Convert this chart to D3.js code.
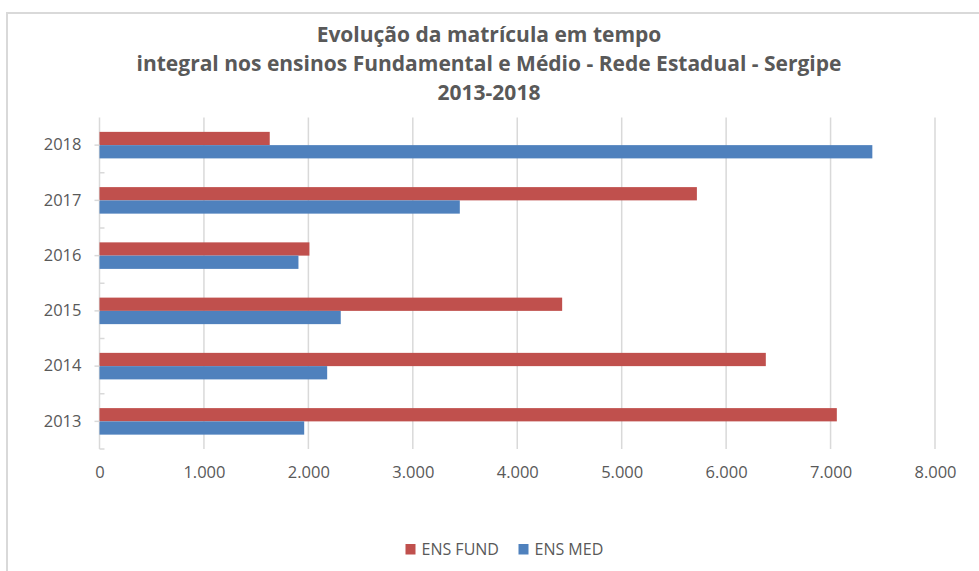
<!DOCTYPE html>
<html>
<head>
<meta charset="utf-8">
<script src="https://cdn.jsdelivr.net/npm/d3@7"></script>
<style>
  body { margin: 0; background: #fff; }
  text { font-family: "Open Sans", sans-serif; fill: #595959; }
</style>
</head>
<body>
<div id="chart"></div>
<script>
// Data
const years = ["2018", "2017", "2016", "2015", "2014", "2013"];
const ensFund = [1630, 5720, 2010, 4430, 6380, 7060];
const ensMed = [7400, 3450, 1905, 2310, 2180, 1960];
const xTicks = [0, 1000, 2000, 3000, 4000, 5000, 6000, 7000, 8000];
const seriesNames = ["ENS FUND", "ENS MED"];
const titleLines = [
  "Evolução da matrícula em tempo",
  "integral nos ensinos Fundamental e Médio - Rede Estadual - Sergipe",
  "2013-2018"
];

const width = 979, height = 571;
const colors = ["#C0504D", "#4F81BD"];
const grid = "#d9d9d9";

const rows = years.map((y, i) => ({year: y, values: [ensFund[i], ensMed[i]]}));

const svg = d3.select("#chart")
  .append("svg").attr("width", width).attr("height", height);

// chart frame (only top and left edges visible)
svg.append("path")
  .attr("d", `M7,${height} V13 H${width}`)
  .attr("fill", "none")
  .attr("stroke", grid)
  .attr("stroke-width", 2);

const x = d3.scaleLinear()
  .domain([0, 8000])
  .range([99.5, 935]);

const y = d3.scaleBand()
  .domain(years)
  .range([117.5, 449])
  .paddingInner(0.52)
  .paddingOuter(0.26);

const sub = d3.scaleBand()
  .domain([0, 1])
  .range([0, y.bandwidth()]);

const ptBR = d3.formatLocale({decimal: ",", thousands: ".", grouping: [3], currency: ["R$", ""]});

// vertical gridlines
svg.append("g")
  .selectAll("line")
  .data(xTicks.slice(1))
  .join("line")
  .attr("x1", d => x(d)).attr("x2", d => x(d))
  .attr("y1", 117.5).attr("y2", 449)
  .attr("stroke", grid)
  .attr("stroke-width", 1.5);

// category axis line + boundary ticks
svg.append("line")
  .attr("x1", x(0)).attr("x2", x(0))
  .attr("y1", 117.5).attr("y2", 449)
  .attr("stroke", grid).attr("stroke-width", 1.5);

const step = y.step();
svg.append("g")
  .selectAll("line")
  .data(d3.range(1, years.length + 1))
  .join("line")
  .attr("x1", x(0)).attr("x2", x(0) + 5)
  .attr("y1", d => 117.5 + d * step).attr("y2", d => 117.5 + d * step)
  .attr("stroke", grid).attr("stroke-width", 1.5);

// bars
svg.append("g")
  .selectAll("g")
  .data(rows)
  .join("g")
  .attr("transform", d => `translate(0,${y(d.year)})`)
  .selectAll("rect")
  .data(d => d.values.map((v, k) => ({k, v})))
  .join("rect")
  .attr("x", x(0))
  .attr("y", d => sub(d.k))
  .attr("width", d => x(d.v) - x(0))
  .attr("height", sub.bandwidth())
  .attr("fill", d => colors[d.k]);

// y axis labels
const yAxis = svg.append("g")
  .attr("transform", `translate(${x(0)},0)`)
  .call(d3.axisLeft(y).tickSize(5).tickPadding(13));
yAxis.select(".domain").remove();
yAxis.selectAll("line").attr("stroke", grid).attr("stroke-width", 1.5);
yAxis.selectAll("text").style("font-size", "16.5px").attr("fill", "#595959");

// x axis labels
const xAxis = svg.append("g")
  .attr("transform", "translate(0,449)")
  .call(d3.axisBottom(x).tickValues(xTicks).tickSize(0).tickPadding(17)
    .tickFormat(ptBR.format(",")));
xAxis.select(".domain").remove();
xAxis.selectAll("text").style("font-size", "16.5px").attr("fill", "#595959");

// title
svg.append("g")
  .selectAll("text")
  .data(titleLines)
  .join("text")
  .attr("x", 489)
  .attr("y", (d, i) => 41.5 + i * 29.3)
  .attr("text-anchor", "middle")
  .style("font-size", "21px")
  .style("font-weight", "bold")
  .text(d => d);

// legend
const legendX = [405.5, 518.5];
const legend = svg.append("g")
  .selectAll("g")
  .data(seriesNames)
  .join("g")
  .attr("transform", (d, i) => `translate(${legendX[i]},544)`);
legend.append("rect")
  .attr("width", 10).attr("height", 10.5)
  .attr("fill", (d, i) => colors[i]);
legend.append("text")
  .attr("x", 16).attr("y", 11)
  .style("font-size", "16px")
  .text(d => d);
</script>
</body>
</html>
